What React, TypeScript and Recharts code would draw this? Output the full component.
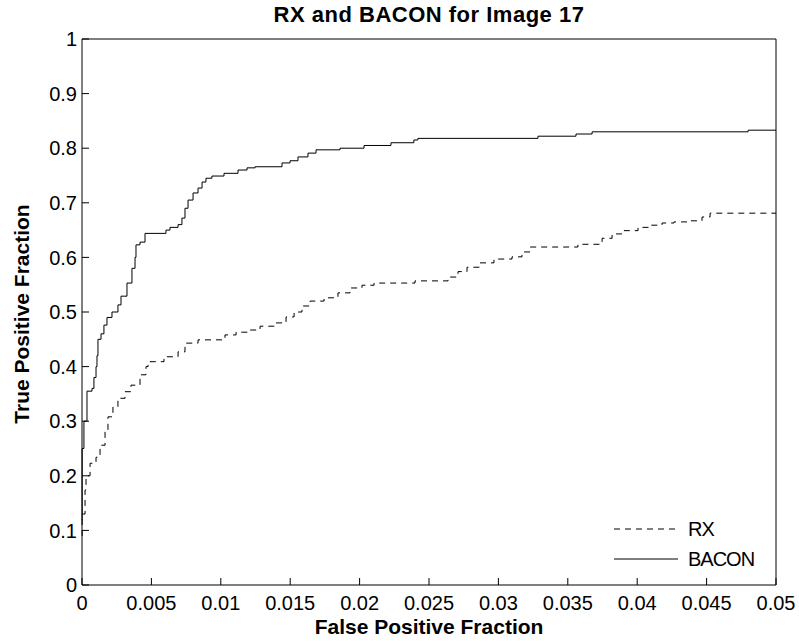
import { LineChart, Line, XAxis, YAxis } from 'recharts';

const FONT = '"Liberation Sans", Arial, Helvetica, sans-serif';

const xTicks = [0, 0.005, 0.01, 0.015, 0.02, 0.025, 0.03, 0.035, 0.04, 0.045, 0.05];
const yTicks = [0, 0.1, 0.2, 0.3, 0.4, 0.5, 0.6, 0.7, 0.8, 0.9, 1];

// RX detector ROC (dashed)
const rxFpf = [
  0, 0.00001, 0.00022, 0.00029, 0.00058, 0.00101, 0.0013, 0.00166, 0.00187, 0.00223,
  0.00259, 0.0031, 0.00353, 0.00418, 0.00461, 0.00476, 0.00591, 0.00692, 0.00742, 0.00836,
  0.0103, 0.0111, 0.01196, 0.01283, 0.01398, 0.0147, 0.01528, 0.01585, 0.01643, 0.01744,
  0.01844, 0.01931, 0.02017, 0.02104, 0.02399, 0.02637, 0.02709, 0.02774, 0.02867, 0.02968,
  0.03098, 0.0317, 0.03228, 0.03573, 0.03747, 0.03819, 0.03905, 0.04006, 0.041, 0.04179,
  0.04265, 0.04381, 0.04467, 0.04525, 0.05,
];
const rxTpf = [
  0.09, 0.13, 0.174, 0.2, 0.223, 0.234, 0.256, 0.284, 0.308, 0.326,
  0.342, 0.354, 0.366, 0.385, 0.4, 0.409, 0.418, 0.427, 0.443, 0.449,
  0.458, 0.463, 0.467, 0.474, 0.48, 0.491, 0.5, 0.511, 0.52, 0.526,
  0.535, 0.544, 0.549, 0.553, 0.557, 0.564, 0.574, 0.582, 0.59, 0.597,
  0.601, 0.61, 0.619, 0.624, 0.635, 0.643, 0.649, 0.655, 0.659, 0.663,
  0.665, 0.667, 0.674, 0.681, 0.681,
];

// BACON detector ROC (solid)
const baconFpf = [
  0, 0.00001, 0.00014, 0.00036, 0.00072, 0.00086, 0.00101, 0.00108, 0.00115, 0.00137,
  0.00158, 0.0018, 0.00216, 0.00259, 0.00281, 0.00324, 0.0036, 0.00382, 0.00389, 0.00418,
  0.00454, 0.00605, 0.00634, 0.00692, 0.0072, 0.00742, 0.00764, 0.008, 0.00836, 0.00865,
  0.00893, 0.00936, 0.01023, 0.01124, 0.01189, 0.01247, 0.01441, 0.01499, 0.01556, 0.01628,
  0.01686, 0.01859, 0.02032, 0.02226, 0.02391, 0.0242, 0.03285, 0.03559, 0.03675, 0.04799,
  0.05,
];
const baconTpf = [
  0.12, 0.25, 0.3, 0.355, 0.36, 0.38, 0.4, 0.42, 0.45, 0.46,
  0.476, 0.49, 0.5, 0.513, 0.529, 0.553, 0.58, 0.6, 0.623, 0.628,
  0.644, 0.65, 0.655, 0.66, 0.672, 0.69, 0.705, 0.718, 0.727, 0.738,
  0.745, 0.749, 0.754, 0.76, 0.764, 0.766, 0.773, 0.777, 0.784, 0.791,
  0.797, 0.8, 0.805, 0.81, 0.815, 0.818, 0.822, 0.826, 0.83, 0.833,
  0.833,
];

const legendNames = ['RX', 'BACON'];
const legendDashes = ['6 5', undefined];

const rxData = rxFpf.map((x, i) => ({ x, y: rxTpf[i] }));
const baconData = baconFpf.map((x, i) => ({ x, y: baconTpf[i] }));

// matlab style legend, no box, lower right
function MatlabLegend() {
  return (
    <div style={{ position: 'absolute', left: 613, top: 514, fontSize: 20, color: '#000' }}>
      {legendNames.map((name, i) => (
        <div key={name} style={{ display: 'flex', alignItems: 'center', height: 30 }}>
          <svg width={66} height={10} style={{ marginRight: 9 }}>
            <line x1={1} y1={5} x2={65} y2={5} stroke="#000" strokeWidth={1} strokeDasharray={legendDashes[i]} />
          </svg>
          <span style={{ letterSpacing: -1 }}>{name}</span>
        </div>
      ))}
    </div>
  );
}

export default function App() {
  return (
    <div style={{ position: 'absolute', left: 0, top: 0, width: 799, height: 643, background: '#fff', fontFamily: FONT }}>
      <LineChart
        width={799}
        height={643}
        margin={{ top: 38, right: 22, bottom: 28, left: 32 }}
      >
        <XAxis
          xAxisId="bottom"
          type="number"
          dataKey="x"
          domain={[0, 0.05]}
          ticks={xTicks}
          interval={0}
          height={30}
          tickSize={-7}
          tickMargin={18}
          tickFormatter={(v) => String(v)}
          axisLine={{ stroke: '#000' }}
          tickLine={{ stroke: '#000' }}
          tick={{ fill: '#000', fontSize: 20, fontFamily: FONT }}
        />
        {/* box: top and right axes, ticks only */}
        <XAxis
          xAxisId="top"
          orientation="top"
          type="number"
          dataKey="x"
          domain={[0, 0.05]}
          ticks={xTicks}
          interval={0}
          height={1}
          tickSize={-7}
          axisLine={{ stroke: '#000' }}
          tickLine={{ stroke: '#000' }}
          tick={false}
        />
        <YAxis
          yAxisId="left"
          type="number"
          domain={[0, 1]}
          ticks={yTicks}
          interval={0}
          width={50}
          tickSize={-7}
          tickMargin={12}
          tickFormatter={(v) => String(v)}
          axisLine={{ stroke: '#000' }}
          tickLine={{ stroke: '#000' }}
          tick={{ fill: '#000', fontSize: 20, fontFamily: FONT }}
        />
        <YAxis
          yAxisId="right"
          orientation="right"
          type="number"
          domain={[0, 1]}
          ticks={yTicks}
          interval={0}
          width={1}
          tickSize={-7}
          axisLine={{ stroke: '#000' }}
          tickLine={{ stroke: '#000' }}
          tick={false}
        />
        <Line
          name="RX"
          data={rxData}
          xAxisId="bottom"
          yAxisId="left"
          dataKey="y"
          type="stepAfter"
          stroke="#000"
          strokeWidth={1}
          strokeDasharray="6 5"
          dot={false}
          activeDot={false}
          isAnimationActive={false}
        />
        <Line
          name="BACON"
          data={baconData}
          xAxisId="bottom"
          yAxisId="left"
          dataKey="y"
          type="stepAfter"
          stroke="#000"
          strokeWidth={1}
          dot={false}
          activeDot={false}
          isAnimationActive={false}
        />
      </LineChart>
      <MatlabLegend />
      <div
        style={{
          position: 'absolute', left: 129, width: 600, top: 2, textAlign: 'center',
          fontWeight: 'bold', fontSize: 22, letterSpacing: 0.5, whiteSpace: 'nowrap',
        }}
      >
        RX and BACON for Image 17
      </div>
      <div
        style={{
          position: 'absolute', left: 129, width: 600, top: 615, textAlign: 'center',
          fontWeight: 'bold', fontSize: 21, whiteSpace: 'nowrap',
        }}
      >
        False Positive Fraction
      </div>
      <div
        style={{
          position: 'absolute', left: 22, top: 314, transform: 'translate(-50%, -50%) rotate(-90deg)',
          fontWeight: 'bold', fontSize: 21, whiteSpace: 'nowrap',
        }}
      >
        True Positive Fraction
      </div>
    </div>
  );
}
